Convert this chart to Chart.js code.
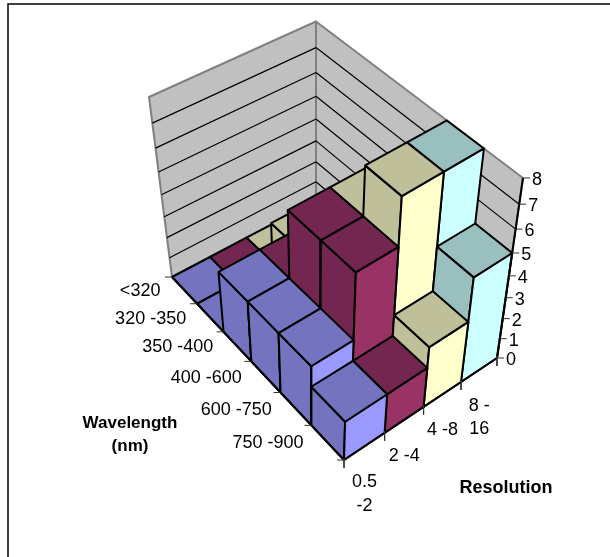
<!DOCTYPE html>
<html>
<head>
<meta charset="utf-8">
<style>
  html, body { margin: 0; padding: 0; background: #fff; }
  #box { position: relative; width: 610px; height: 557px; }
</style>
<script src="https://cdn.jsdelivr.net/npm/chart.js@4/dist/chart.umd.min.js"></script>
</head>
<body>
<div id="box"><canvas id="myChart"></canvas></div>
<script>
// data
var resolutions = [['0.5', '-2'], ['2 -4'], ['4 -8'], ['8 -', '16']];
var wavelengths = ['<320', '320 -350', '350 -400', '400 -600', '600 -750', '750 -900'];
var valueTicks = [0, 1, 2, 3, 4, 5, 6, 7, 8];

var res05to2 = [0, 0, 3, 3, 3, 2];
var res2to4 = [0, 0, 3, 6, 6, 2];
var res4to8 = [0, 2, 2, 6, 8, 3];
var res8to16 = [0, 0, 0, 0, 8, 5];
var seriesValues = [res05to2, res2to4, res4to8, res8to16];

var frontColors = ['#9999ff', '#993366', '#ffffcc', '#ccffff'];
var topColors = ['#7373bf', '#732650', '#bfbf99', '#99bfbf'];

// where the floor and the z=8 plane land on the page (corners: left, back, right, front)
var floorQuad = [[172, 277], [316, 201], [497, 358], [344, 460]];
var roofQuad = [[149, 97], [316, 21.5], [523, 178], [349, 285]];
var depthBend = 0.16; // perspective of the value axis

function makeHomography(q){
   var dx1 = q[1][0] - q[2][0], dx2 = q[3][0] - q[2][0], sx = q[0][0] - q[1][0] + q[2][0] - q[3][0];
   var dy1 = q[1][1] - q[2][1], dy2 = q[3][1] - q[2][1], sy = q[0][1] - q[1][1] + q[2][1] - q[3][1];
   var den = dx1 * dy2 - dx2 * dy1;
   var g = (sx * dy2 - dx2 * sy) / den;
   var h = (dx1 * sy - sx * dy1) / den;
   return {
      a: q[1][0] - q[0][0] + g * q[1][0], b: q[3][0] - q[0][0] + h * q[3][0], c: q[0][0],
      d: q[1][1] - q[0][1] + g * q[1][1], e: q[3][1] - q[0][1] + h * q[3][1], f: q[0][1],
      g: g, h: h
   };
}
var floorH = makeHomography(floorQuad);
var roofH = makeHomography(roofQuad);

function applyH(m, u, v){
   var w = m.g * u + m.h * v + 1;
   return { x: (m.a * u + m.b * v + m.c) / w, y: (m.d * u + m.e * v + m.f) / w };
}

// res: 0..4, wave: 0..6, value: 0..8
function project(res, wave, value){
   var u = res / resolutions.length, v = wave / wavelengths.length;
   var p0 = applyH(floorH, u, v), p1 = applyH(roofH, u, v);
   var z = value / valueTicks[valueTicks.length - 1];
   var t = z * (1 - depthBend) / (1 - depthBend * z);
   return { x: p0.x + (p1.x - p0.x) * t, y: p0.y + (p1.y - p0.y) * t };
}

function polygon(points, fillColor, lineColor, lineWidth){
   return {
      data: points.concat([points[0]]),
      showLine: true, fill: 'shape', tension: 0, pointRadius: 0,
      backgroundColor: fillColor, borderColor: lineColor, borderWidth: lineWidth,
      borderJoinStyle: 'round'
   };
}
function segment(a, b, lineColor, lineWidth){
   return {
      data: [a, b], showLine: true, fill: false, tension: 0, pointRadius: 0,
      borderColor: lineColor, borderWidth: lineWidth
   };
}

function makeDatasets(){
   var sets = [];
   var nRes = resolutions.length, nWave = wavelengths.length, top = valueTicks[valueTicks.length - 1];

   // walls
   sets.push(polygon([project(0, 0, 0), project(nRes, 0, 0), project(nRes, 0, top), project(0, 0, top)], '#c0c0c0', '#808080', 2));
   sets.push(polygon([project(nRes, 0, 0), project(nRes, nWave, 0), project(nRes, nWave, top), project(nRes, 0, top)], '#c0c0c0', '#808080', 2));
   valueTicks.forEach(function(t){
      if(t == 0 || t == top) return;
      sets.push(segment(project(0, 0, t), project(nRes, 0, t), '#000', 1.2));
      sets.push(segment(project(nRes, 0, t), project(nRes, nWave, t), '#000', 1.2));
   });

   // bars, back to front
   for(var w = 0; w < nWave; w++){
      for(var r = nRes - 1; r >= 0; r--){
         var val = seriesValues[r][w];
         if(val > 0){
            sets.push(polygon([project(r, w, 0), project(r, w + 1, 0), project(r, w + 1, val), project(r, w, val)], topColors[r], '#000', 2));
            sets.push(polygon([project(r, w + 1, 0), project(r + 1, w + 1, 0), project(r + 1, w + 1, val), project(r, w + 1, val)], frontColors[r], '#000', 2));
         }
         sets.push(polygon([project(r, w, val), project(r + 1, w, val), project(r + 1, w + 1, val), project(r, w + 1, val)], topColors[r], '#000', 2));
      }
   }

   // axes and tick marks
   sets.push(segment(project(0, 0, 0), project(0, nWave, 0), '#000', 2));
   sets.push(segment(project(0, nWave, 0), project(nRes, nWave, 0), '#000', 2));
   sets.push(segment(project(nRes, nWave, 0), project(nRes, nWave, top), '#000', 2));
   wavelengths.concat(['']).forEach(function(label, i){
      var p = project(0, i, 0);
      sets.push(segment(p, { x: p.x - 7, y: p.y }, '#333', 1));
   });
   resolutions.concat(['']).forEach(function(label, i){
      var p = project(i, nWave, 0);
      sets.push(segment({ x: p.x, y: p.y - 2 }, { x: p.x, y: p.y + 8 }, '#333', 1));
   });
   valueTicks.forEach(function(t){
      var p = project(nRes, nWave, t);
      sets.push(segment(p, { x: p.x + 7, y: p.y }, '#333', 1));
   });
   return sets.reverse(); // chart.js paints the first dataset last
}

var labelPlugin = {
   id: 'labelPlugin',
   afterDraw: function(chart){
      var ctx = chart.ctx;
      var nRes = resolutions.length, nWave = wavelengths.length;
      ctx.save();
      // only the top and left of the outer frame fall inside the picture
      ctx.strokeStyle = '#000';
      ctx.lineWidth = 1.5;
      ctx.beginPath();
      ctx.moveTo(610, 4);
      ctx.lineTo(8, 4);
      ctx.lineTo(8, 557);
      ctx.stroke();

      ctx.fillStyle = '#000';
      ctx.textBaseline = 'middle';
      ctx.font = '18px "Liberation Sans"';

      ctx.textAlign = 'right';
      wavelengths.forEach(function(label, i){
         var p = project(0, i + 0.5, 0);
         ctx.fillText(label, p.x - 24, p.y + 1);
      });
      ctx.textAlign = 'center';
      resolutions.forEach(function(lines, i){
         var p = project(i + 0.5, nWave, 0);
         lines.forEach(function(line, j){
            ctx.fillText(line, p.x, p.y + 36 + j * 23.5);
         });
      });
      ctx.textAlign = 'left';
      valueTicks.forEach(function(t){
         var p = project(nRes, nWave, t);
         ctx.fillText(String(t), p.x + 9, p.y + 2);
      });

      ctx.font = 'bold 17px "Liberation Sans"';
      ctx.textAlign = 'center';
      ctx.fillText('Wavelength', 130, 423);
      ctx.fillText('(nm)', 130, 446);
      ctx.font = 'bold 18px "Liberation Sans"';
      ctx.fillText('Resolution', 506, 488);
      ctx.restore();
   }
};

var ctx = document.getElementById('myChart').getContext('2d');
var myChart = new Chart(ctx, {
   type: 'scatter',
   data: { datasets: makeDatasets() },
   options: {
      responsive: true,
      maintainAspectRatio: false,
      animation: false,
      events: [],
      layout: { padding: 0 },
      plugins: { legend: { display: false }, tooltip: { enabled: false } },
      scales: {
         x: { type: 'linear', min: 0, max: 610, display: false },
         y: { type: 'linear', min: 0, max: 557, reverse: true, display: false }
      }
   },
   plugins: [labelPlugin]
});
</script>
</body>
</html>
